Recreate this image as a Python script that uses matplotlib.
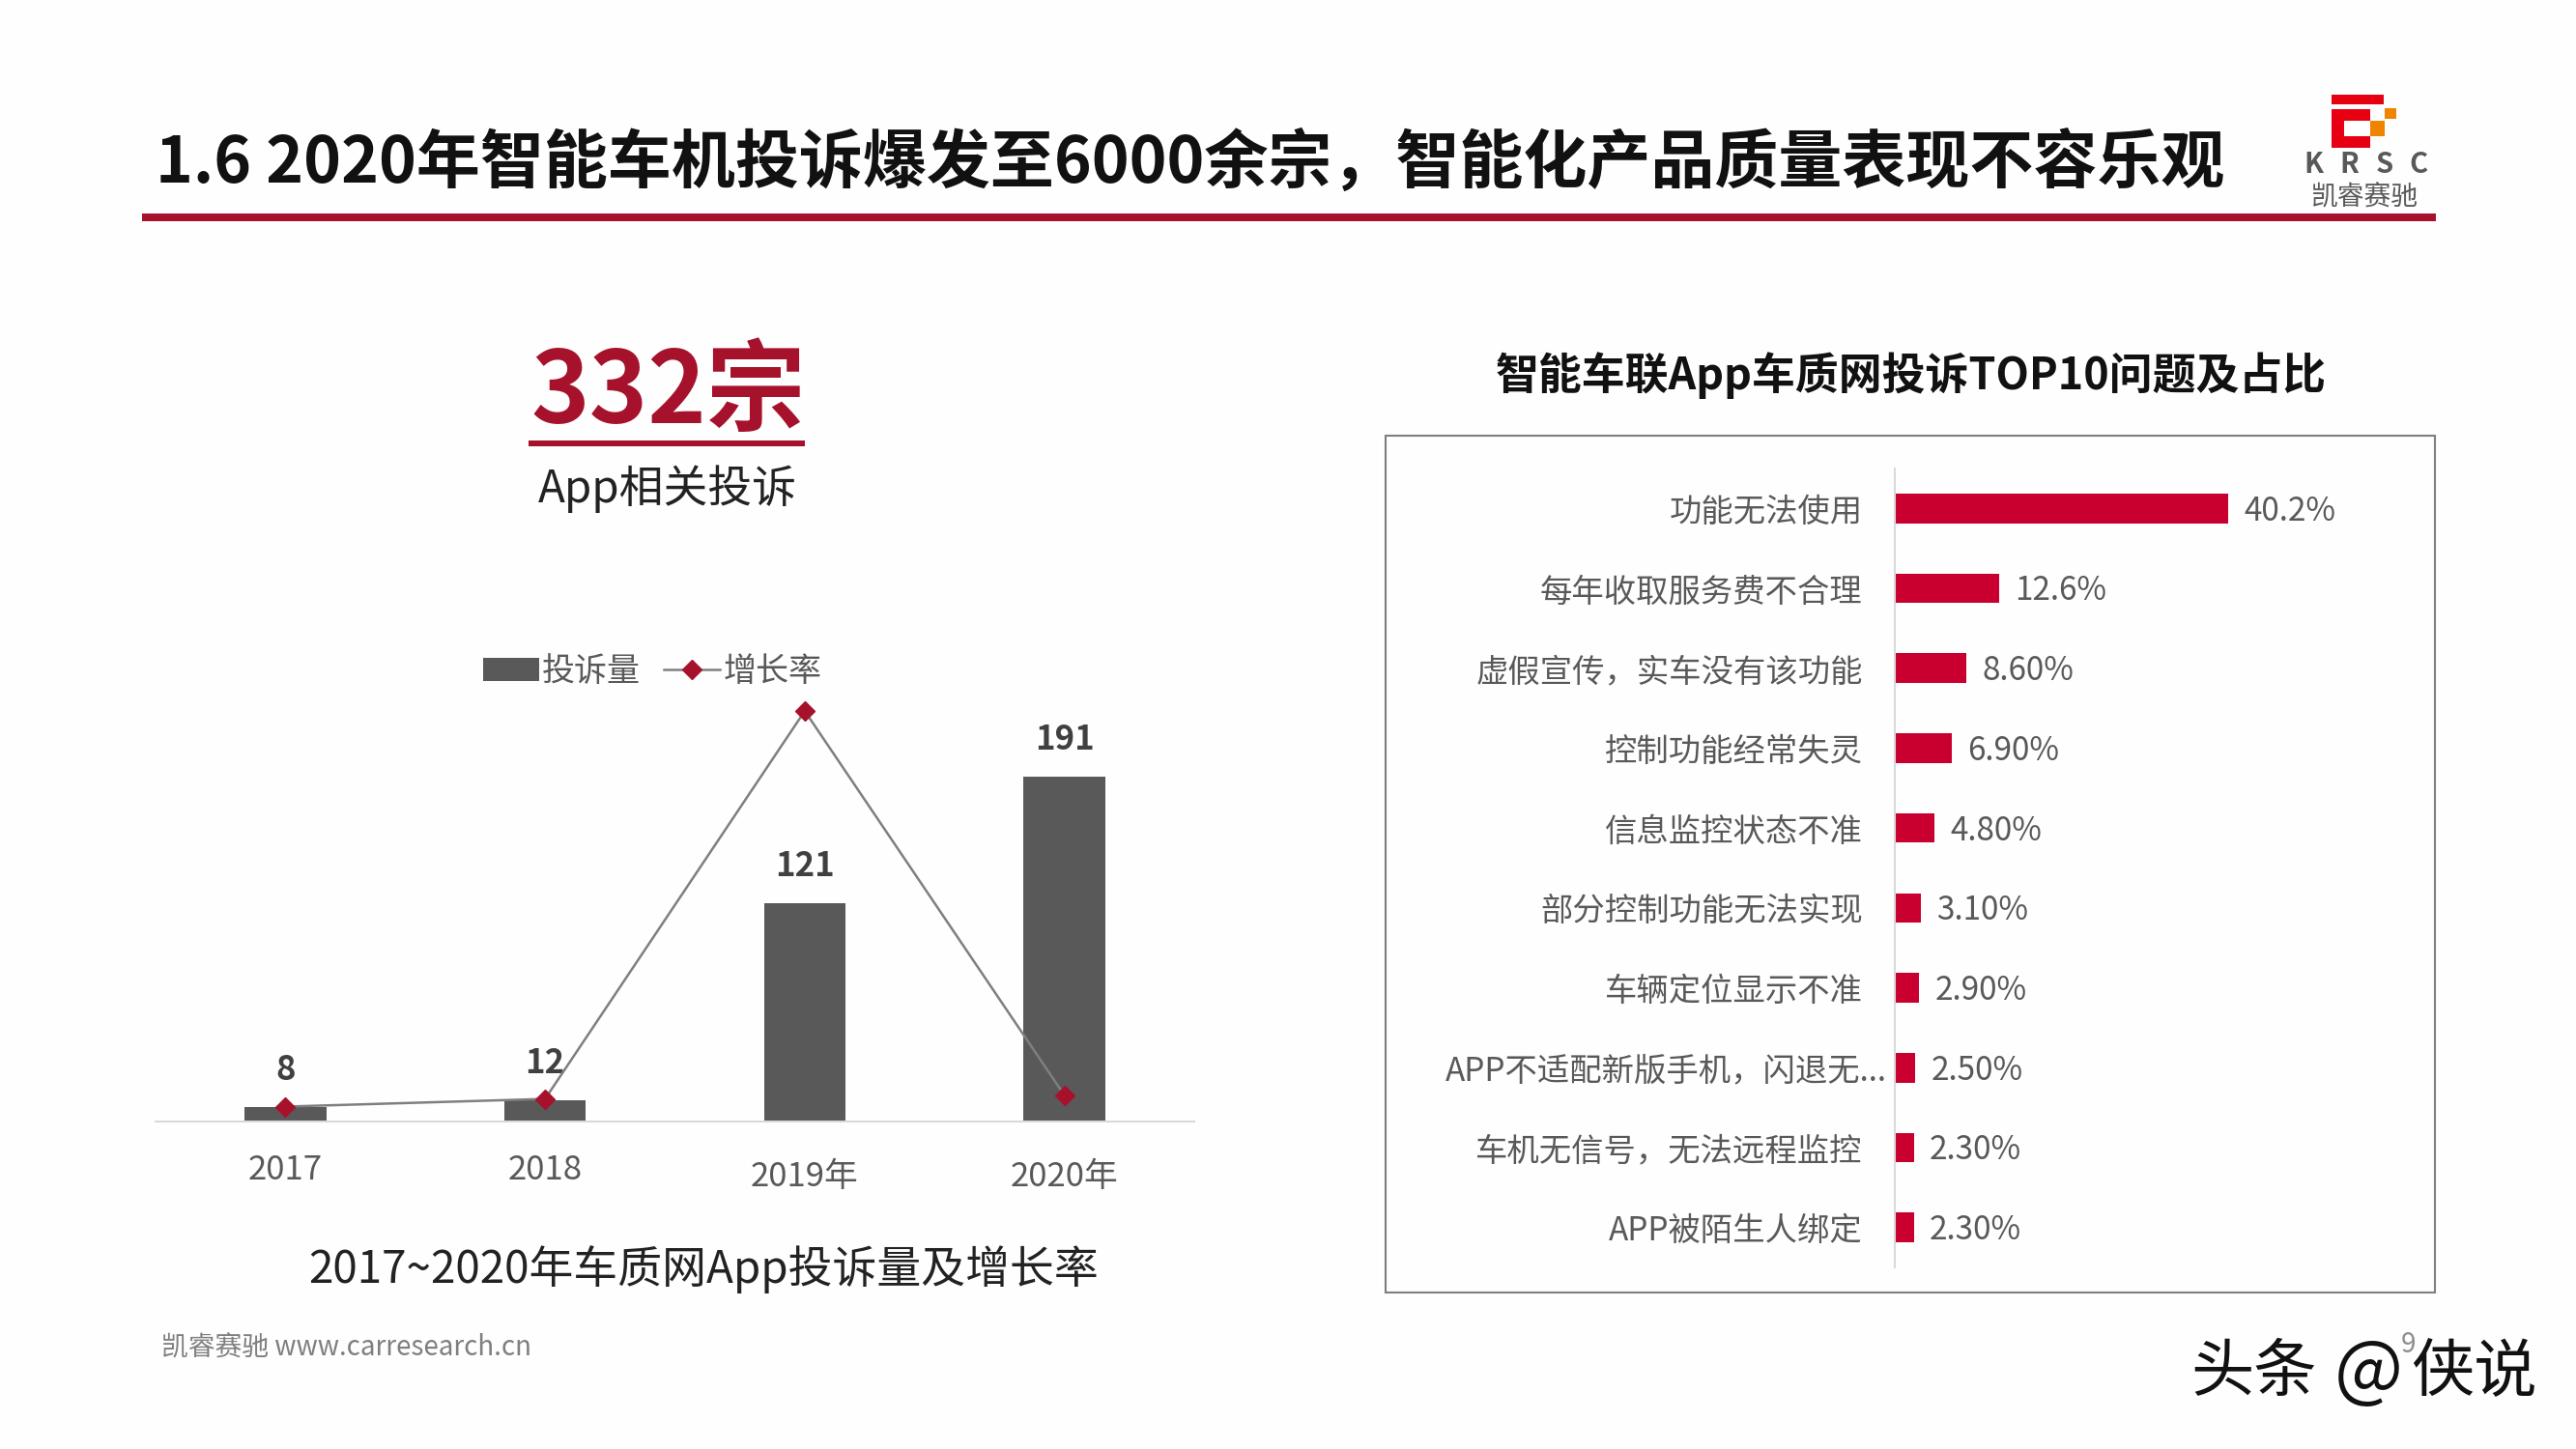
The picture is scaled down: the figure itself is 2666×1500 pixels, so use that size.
import matplotlib
matplotlib.use('Agg')
import matplotlib.pyplot as plt
from matplotlib.patches import Rectangle

plt.rcParams['font.family'] = ['Noto Sans CJK SC', 'DejaVu Sans']

W, H = 2666, 1500

# 左图数据
years = ['2017', '2018', '2019年', '2020年']
complaints = [8, 12, 121, 191]
growth = [0.33, 0.5, 9.08, 0.58]

# 右图数据
issues = ['功能无法使用', '每年收取服务费不合理', '虚假宣传，实车没有该功能', '控制功能经常失灵',
          '信息监控状态不准', '部分控制功能无法实现', '车辆定位显示不准',
          'APP不适配新版手机，闪退无...', '车机无信号，无法远程监控', 'APP被陌生人绑定']
shares = [40.2, 12.6, 8.6, 6.9, 4.8, 3.1, 2.9, 2.5, 2.3, 2.3]
share_labels = ['40.2%', '12.6%', '8.60%', '6.90%', '4.80%', '3.10%', '2.90%', '2.50%', '2.30%', '2.30%']

RED = '#A6122C'
BAR_RED = '#C9002F'
GREY = '#595959'

fig = plt.figure(figsize=(W / 100, H / 100), dpi=100, facecolor='#FEFEFE')


def axes_px(x0, y0, x1, y1):
    # 按像素位置建坐标轴，y 从上往下
    return fig.add_axes([x0 / W, 1 - y1 / H, (x1 - x0) / W, (y1 - y0) / H])


def text_px(x, y, s, **kw):
    kw.setdefault('ha', 'center')
    kw.setdefault('va', 'center')
    return fig.text(x / W, 1 - y / H, s, **kw)


def rect_px(x0, y0, x1, y1, **kw):
    kw.setdefault('linewidth', 0)
    fig.add_artist(Rectangle((x0 / W, 1 - y1 / H), (x1 - x0) / W, (y1 - y0) / H,
                             transform=fig.transFigure, **kw))


# 标题和红线
text_px(161, 169, '1.6 2020年智能车机投诉爆发至6000余宗，智能化产品质量表现不容乐观',
        ha='left', fontsize=47.5, fontweight='bold', color='#111111')
rect_px(147, 221, 2521, 229, facecolor=RED)

# logo
rect_px(2413, 98, 2467, 108, facecolor='#E60012')
rect_px(2413, 113, 2453, 153, facecolor='#E60012')
rect_px(2426, 125, 2453, 141, facecolor='#FEFEFE')
rect_px(2453, 125, 2468, 141, facecolor='#F08300')
rect_px(2468, 112, 2480, 123, facecolor='#F08300')
for lx, letter in zip([2394, 2431, 2468, 2503], 'KRSC'):
    text_px(lx, 170, letter, fontsize=21, fontweight='bold', color=GREY)
text_px(2447, 204, '凯睿赛驰', fontsize=20, color=GREY)

# 左侧大数字
text_px(692, 408, '332宗', fontsize=74, fontweight='bold', color=RED)
rect_px(547, 456, 833, 462, facecolor=RED)
text_px(691, 506, 'App相关投诉', fontsize=33, color='#222222')

# 左图：柱子 + 折线
ax = axes_px(161, 700, 1236, 1161)
x = range(len(years))
ax.bar(x, complaints, width=0.315, color=GREY, label='投诉量')
for i, v in zip(x, complaints):
    ax.text(i, v + 11, str(v), ha='center', va='bottom', fontsize=25, fontweight='bold', color='#404040')
ax.set_xlim(-0.5, 3.5)
ax.set_ylim(0, 246.5)
ax.set_yticks([])
ax.set_xticks(list(x))
ax.set_xticklabels(years, fontsize=25, color=GREY)
ax.tick_params(axis='x', length=0, pad=24)
for lab in ax.get_xticklabels()[2:]:
    lab.set_y(-0.015)
for s in ['top', 'left', 'right']:
    ax.spines[s].set_visible(False)
ax.spines['bottom'].set_color('#D9D9D9')
ax.spines['bottom'].set_linewidth(1.5)
ax.patch.set_alpha(0)

ax2 = ax.twinx()
ax2.plot(x, growth, color='#7F7F7F', linewidth=1.8, marker='D', markersize=10.5,
         markerfacecolor=RED, markeredgecolor=RED, label='增长率')
ax2.set_ylim(0, 9.85)
ax2.set_yticks([])
for s in ax2.spines.values():
    s.set_visible(False)
ax2.patch.set_alpha(0)

h1, l1 = ax.get_legend_handles_labels()
h2, l2 = ax2.get_legend_handles_labels()
fig.legend(h1 + h2, l1 + l2, ncol=2, frameon=False, fontsize=24.5, labelcolor=GREY,
           loc='center', bbox_to_anchor=(675 / W, 1 - 695 / H),
           handlelength=1.7, handletextpad=0.1, columnspacing=0.7, borderpad=0)

text_px(728, 1314, '2017~2020年车质网App投诉量及增长率', fontsize=33, color='#222222')
text_px(167, 1395, '凯睿赛驰 www.carresearch.cn', ha='left', fontsize=20, color='#7F7F7F')

# 右图
text_px(1978, 389, '智能车联App车质网投诉TOP10问题及占比', fontsize=32.3, fontweight='bold', color='#111111')
rect_px(1434, 451, 2520, 1338, facecolor='none', edgecolor='#7F7F7F', linewidth=1.5)

ax3 = axes_px(1961, 485, 2520, 1312)
y = range(len(issues))
ax3.barh(y, shares, height=0.37, color=BAR_RED)
for i, v, s in zip(y, shares, share_labels):
    ax3.text(v + 1.9, i + 0.035, s, ha='left', va='center', fontsize=24, color=GREY)
ax3.set_xlim(0, 65.2)
ax3.set_ylim(9.5, -0.5)
ax3.set_xticks([])
ax3.set_yticks(list(y))
ax3.set_yticklabels(issues, fontsize=24, color=GREY)
ax3.tick_params(axis='y', length=0, pad=24)
ax3.get_yticklabels()[7].set_x(0.045)
for s in ['top', 'bottom', 'right']:
    ax3.spines[s].set_visible(False)
ax3.spines['left'].set_color('#D9D9D9')
ax3.spines['left'].set_linewidth(1.5)
ax3.patch.set_alpha(0)

# 页码和水印
text_px(2492, 1392, '9', fontsize=20, color='#8C8C8C')
text_px(2333, 1422, '头条', fontsize=47, color='#111111')
text_px(2451, 1422, '@', fontsize=54, color='#111111')
text_px(2560, 1422, '侠说', fontsize=47, color='#111111')

fig.savefig('out.png', dpi=100, facecolor=fig.get_facecolor())
